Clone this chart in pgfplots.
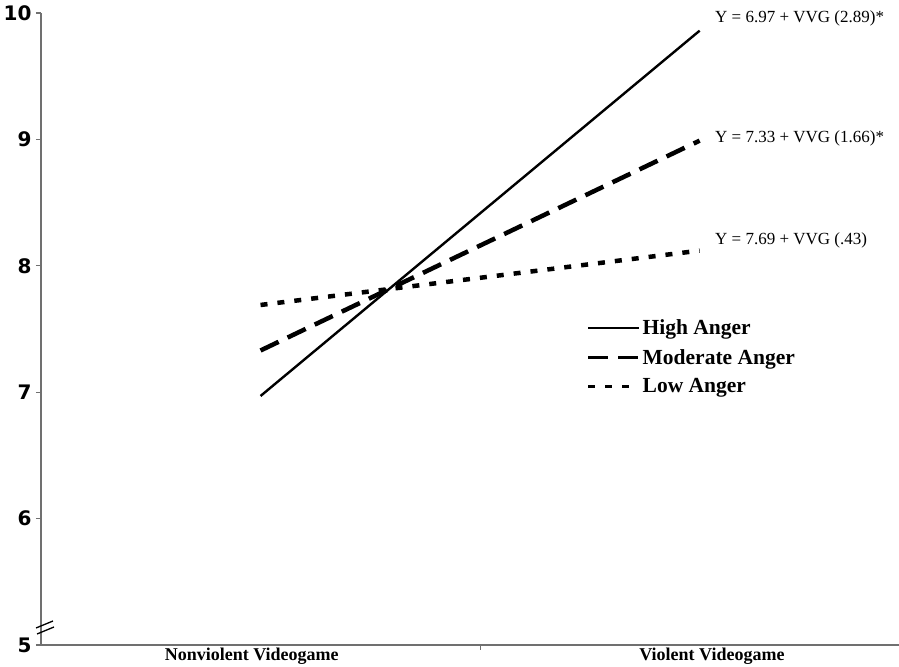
\documentclass[border=0pt]{standalone}
\usepackage{pgfplots}
\pgfplotsset{compat=1.18}
\usepackage{fontspec}
\setmainfont{Liberation Serif}
\newfontfamily\tickfont{DejaVu Sans}

\definecolor{axgray}{HTML}{707070}

\begin{document}
\begin{tikzpicture}
\begin{axis}[
    scale only axis,
    width=858pt, height=632pt,
    xmin=0, xmax=1.954,
    ymin=5, ymax=10,
    axis x line=bottom,
    axis y line=left,
    axis line style={axgray, line width=1.4pt, -},
    ytick={5,6,7,8,9,10},
    /pgf/number format/assume math mode=true,
    yticklabel style={font=\tickfont\fontsize{20}{20}\selectfont\bfseries, xshift=-1pt},
    ytick style={axgray, line width=1.2pt},
    xtick={1},
    xticklabels={},
    xtick style={axgray, line width=1.2pt},
    tick align=outside,
    major tick length=5pt,
    extra x ticks={0.48,1.528},
    extra x tick labels={Nonviolent Videogame, Violent Videogame},
    extra x tick style={major tick length=0pt,
        tick label style={font=\fontsize{18}{18}\selectfont\bfseries, yshift=1pt}},
    clip=false,
    legend cell align=left,
    legend style={at={(0.636,0.518)}, anchor=north west, draw=none, fill=none,
        inner sep=0pt, row sep=9pt,
        font=\fontsize{21.5}{21.5}\selectfont\bfseries,
        /tikz/every even column/.append style={column sep=6pt}},
    legend image code/.code={\draw[#1, line width=2.8pt] (0pt,0pt) -- (51pt,0pt);},
]
\addplot[black, line width=2.4pt] coordinates {(0.5,6.97) (1.5,9.86)};
\addlegendentry{High Anger}
\addplot[black, line width=4.5pt, dash pattern=on 20pt off 10pt] coordinates {(0.5,7.33) (1.5,8.99)};
\addlegendentry{Moderate Anger}
\addplot[black, line width=4.5pt, dash pattern=on 7pt off 10pt] coordinates {(0.5,7.69) (1.5,8.12)};
\addlegendentry{Low Anger}

\node[anchor=west, font=\fontsize{17}{17}\selectfont] at (axis cs:1.5,9.96) [xshift=12pt] {Y = 6.97 + VVG (2.89)*};
\node[anchor=west, font=\fontsize{17}{17}\selectfont] at (axis cs:1.5,9.01) [xshift=12pt] {Y = 7.33 + VVG (1.66)*};
\node[anchor=west, font=\fontsize{17}{17}\selectfont] at (axis cs:1.5,8.20) [xshift=12pt] {Y = 7.69 + VVG (.43)};

% axis break marks
\draw[black, line width=1.3pt] ([xshift=-5pt,yshift=17pt]axis cs:0,5) -- ([xshift=12pt,yshift=24pt]axis cs:0,5);
\draw[black, line width=1.3pt] ([xshift=-4pt,yshift=11pt]axis cs:0,5) -- ([xshift=13pt,yshift=18pt]axis cs:0,5);
\end{axis}
\pgfresetboundingbox
\path ([xshift=-41pt,yshift=-22pt]current axis.south west) rectangle ([yshift=13pt]current axis.north east);
\end{tikzpicture}
\end{document}
